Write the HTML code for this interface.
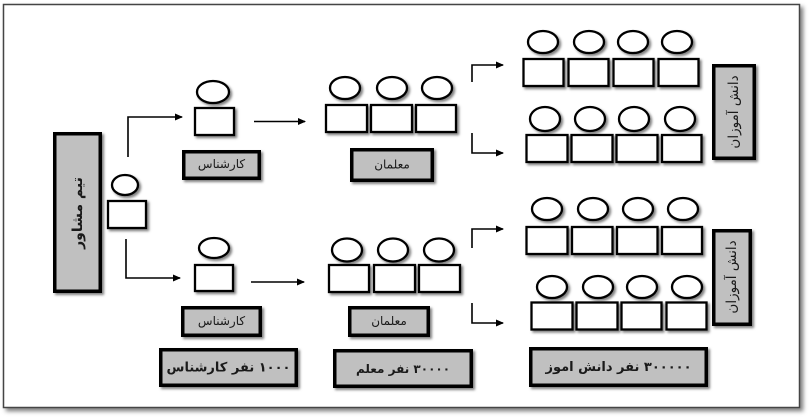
<!DOCTYPE html>
<html><head><meta charset="utf-8">
<style>
html,body{margin:0;padding:0;background:#fff;}
svg{display:block;}
text{font-family:"DejaVu Sans","Liberation Sans",sans-serif;fill:#1a1a1a;}
</style></head>
<body>
<svg width="811" height="418" viewBox="0 0 811 418" xmlns="http://www.w3.org/2000/svg">
<defs>
<filter id="sh" x="-30%" y="-30%" width="160%" height="160%">
<feDropShadow dx="2" dy="2" stdDeviation="1.4" flood-color="#000" flood-opacity="0.5"/>
</filter>
<filter id="fsh" x="-5%" y="-5%" width="110%" height="110%">
<feDropShadow dx="3" dy="3" stdDeviation="2" flood-color="#000" flood-opacity="0.5"/>
</filter>
<marker id="ah" markerWidth="8" markerHeight="8" refX="7" refY="4" orient="auto" markerUnits="userSpaceOnUse">
<path d="M0,0.5 L8,4 L0,7.5 Z" fill="#000"/>
</marker>
</defs>

<!-- outer frame -->
<rect x="3.5" y="4.5" width="796" height="403" fill="#fff" stroke="#444" stroke-width="1.5" filter="url(#fsh)"/>

<!-- main box -->
<g filter="url(#sh)">
<rect x="54.75" y="133.75" width="45.5" height="157.5" fill="#c0c0c0" stroke="#000" stroke-width="3.5"/>
</g>
<text transform="translate(78,213) rotate(-90)" text-anchor="middle" dominant-baseline="central" font-size="14" font-weight="bold" direction="rtl">تیم مشاور</text>

<!-- consultant person -->
<g fill="#fff" stroke="#000" stroke-width="2.3" filter="url(#sh)">
<ellipse cx="125" cy="185" rx="13" ry="10"/>
<rect x="108" y="201" width="38" height="27"/>
</g>

<!-- connectors -->
<g fill="none" stroke="#000" stroke-width="1.6">
<path d="M128 157 V117 H182" marker-end="url(#ah)"/>
<path d="M126 239 V278 H180" marker-end="url(#ah)"/>
<path d="M254 121.5 H305" marker-end="url(#ah)"/>
<path d="M251 282 H304" marker-end="url(#ah)"/>
<path d="M472 82 V65 H503" marker-end="url(#ah)"/>
<path d="M472 133 V153 H503" marker-end="url(#ah)"/>
<path d="M472 248 V229 H503" marker-end="url(#ah)"/>
<path d="M472 303 V323 H503" marker-end="url(#ah)"/>
</g>

<!-- persons -->
<g fill="#fff" stroke="#000" stroke-width="2.3" filter="url(#sh)">
<ellipse cx="213" cy="92" rx="16" ry="11"/>
<rect x="195" y="108" width="39" height="27"/>
<ellipse cx="214" cy="248" rx="15" ry="10"/>
<rect x="195" y="265" width="38" height="26"/>
<ellipse cx="345" cy="88" rx="15" ry="11"/>
<ellipse cx="392" cy="88" rx="15" ry="11"/>
<ellipse cx="437" cy="88" rx="15" ry="11"/>
<rect x="326" y="105" width="41" height="27"/>
<rect x="371" y="105" width="41" height="27"/>
<rect x="416" y="105" width="40" height="27"/>
<ellipse cx="347" cy="250" rx="15" ry="11.5"/>
<ellipse cx="393" cy="250" rx="15" ry="11.5"/>
<ellipse cx="439" cy="250" rx="15" ry="11.5"/>
<rect x="329" y="265" width="40" height="27"/>
<rect x="374" y="265" width="41" height="27"/>
<rect x="419" y="265" width="41" height="27"/>
<ellipse cx="543" cy="42" rx="15" ry="11"/>
<ellipse cx="589" cy="42" rx="15" ry="11"/>
<ellipse cx="633" cy="42" rx="15" ry="11"/>
<ellipse cx="677" cy="42" rx="15" ry="11"/>
<rect x="523.5" y="59" width="40" height="27"/>
<rect x="568.5" y="59" width="40" height="27"/>
<rect x="613.5" y="59" width="40" height="27"/>
<rect x="658.5" y="59" width="40" height="27"/>
<ellipse cx="545" cy="119" rx="15" ry="12"/>
<ellipse cx="590" cy="119" rx="15" ry="12"/>
<ellipse cx="634" cy="119" rx="15" ry="12"/>
<ellipse cx="680" cy="119" rx="15" ry="12"/>
<rect x="526.5" y="135" width="41" height="27"/>
<rect x="571.5" y="135" width="41" height="27"/>
<rect x="616.5" y="135" width="41" height="27"/>
<rect x="662" y="135" width="39.5" height="27"/>
<ellipse cx="547" cy="209" rx="15" ry="11"/>
<ellipse cx="593" cy="209" rx="15" ry="11"/>
<ellipse cx="638" cy="209" rx="15" ry="11"/>
<ellipse cx="683" cy="209" rx="15" ry="11"/>
<rect x="526.5" y="227" width="41" height="27"/>
<rect x="572" y="227" width="40.5" height="27"/>
<rect x="617" y="227" width="40.5" height="27"/>
<rect x="662" y="227" width="40" height="27"/>
<ellipse cx="552" cy="287" rx="15" ry="11"/>
<ellipse cx="598" cy="287" rx="15" ry="11"/>
<ellipse cx="642" cy="287" rx="15" ry="11"/>
<ellipse cx="687" cy="287" rx="15" ry="11"/>
<rect x="531.5" y="302.5" width="41" height="27"/>
<rect x="576.5" y="302.5" width="41" height="27"/>
<rect x="621.5" y="302.5" width="40" height="27"/>
<rect x="666.5" y="302.5" width="40" height="27"/>
</g>

<!-- label boxes -->
<g fill="#c0c0c0" stroke="#000" stroke-width="3.5" filter="url(#sh)">
<rect x="183.75" y="151.75" width="75.5" height="26.5"/>
<rect x="182.75" y="307.75" width="77.5" height="27.5"/>
<rect x="160.75" y="349.75" width="135.5" height="35.5"/>
<rect x="351.75" y="149.75" width="80.5" height="30.5"/>
<rect x="349.75" y="307.75" width="78.5" height="27.5"/>
<rect x="334.75" y="350.75" width="136.5" height="35.5"/>
<rect x="530.75" y="348.75" width="175.5" height="36.5"/>
<rect x="713.75" y="65.75" width="40.5" height="92.5"/>
<rect x="713.75" y="230.75" width="36.5" height="93.5"/>
</g>

<!-- label texts -->
<g text-anchor="middle" dominant-baseline="central" direction="rtl">
<text x="221.5" y="164" font-size="12">کارشناس</text>
<text x="221.5" y="321" font-size="12">کارشناس</text>
<text x="228.5" y="368" font-size="13" font-weight="bold">۱۰۰۰ نفر کارشناس</text>
<text x="392" y="164.5" font-size="12">معلمان</text>
<text x="389" y="321" font-size="12">معلمان</text>
<text x="403" y="369" font-size="12" font-weight="bold">۳۰۰۰۰ نفر معلم</text>
<text x="618.5" y="367.5" font-size="13" font-weight="bold">۳۰۰۰۰۰ نفر دانش اموز</text>
<text transform="translate(734,112) rotate(-90)" font-size="13.5">دانش آموزان</text>
<text transform="translate(732,277) rotate(-90)" font-size="13.5">دانش آموزان</text>
</g>
</svg>
</body></html>
